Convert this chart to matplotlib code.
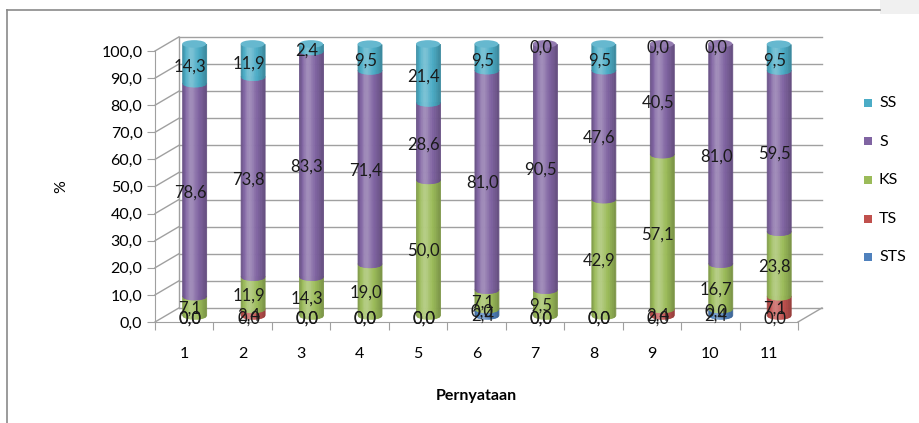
import numpy as np
import matplotlib
matplotlib.use("Agg")
import matplotlib.pyplot as plt
from matplotlib.colors import to_rgb
from matplotlib.patches import Ellipse, Rectangle
from matplotlib.lines import Line2D

plt.rcParams['font.family'] = ['Lato', 'DejaVu Sans']

categories = ['1', '2', '3', '4', '5', '6', '7', '8', '9', '10', '11']
sts = [0.0, 0.0, 0.0, 0.0, 0.0, 2.4, 0.0, 0.0, 0.0, 2.4, 0.0]
ts = [0.0, 2.4, 0.0, 0.0, 0.0, 0.0, 0.0, 0.0, 2.4, 0.0, 7.1]
ks = [7.1, 11.9, 14.3, 19.0, 50.0, 7.1, 9.5, 42.9, 57.1, 16.7, 23.8]
s = [78.6, 73.8, 83.3, 71.4, 28.6, 81.0, 90.5, 47.6, 40.5, 81.0, 59.5]
ss = [14.3, 11.9, 2.4, 9.5, 21.4, 9.5, 0.0, 9.5, 0.0, 0.0, 9.5]

series = [('STS', sts, '#4F81BD'), ('TS', ts, '#C0504D'), ('KS', ks, '#9BBB59'),
          ('S', s, '#8064A2'), ('SS', ss, '#4BACC6')]

grid_c = '#a0a0a0'
DX, DY = 0.41, 5.2        # depth of the 3d box (x units, %)
BW, RY = 0.41, 1.4        # cylinder width, ellipse half height
OFF_X, OFF_Y = 0.17, 2.6  # bar position inside the depth


def shade(base, t):
    r = np.array(to_rgb(base))
    k = 0.28 * np.exp(-((t + 0.3) / 0.45) ** 2) - 0.22 * t ** 2
    if k > 0:
        return tuple(r + (1 - r) * k)
    return tuple(r * (1 + k))


fig = plt.figure(figsize=(9.2, 4.23), dpi=100)
# outer frame
fig.add_artist(Line2D([7 / 920, 7 / 920], [0, 1 - 10 / 423], color='#8a8a8a', lw=1.2))
fig.add_artist(Line2D([7 / 920, 880 / 920], [1 - 10 / 423, 1 - 10 / 423], color='#8a8a8a', lw=1.2))
fig.add_artist(Rectangle((880 / 920, 1 - 14 / 423), 40 / 920, 14 / 423, color='#f0f0f0', lw=0))

ax = fig.add_axes([155 / 920, 101 / 423, 643 / 920, 271 / 423])
n = len(categories)
ax.set_xlim(0, n)
ax.set_ylim(0, 100)
for sp in ['top', 'right']:
    ax.spines[sp].set_visible(False)
for sp in ['left', 'bottom']:
    ax.spines[sp].set_color(grid_c)

# back wall + floor
for v in range(0, 101, 10):
    ax.plot([0, DX], [v, v + DY], color=grid_c, lw=1, clip_on=False)
    ax.plot([DX, n + DX], [v + DY, v + DY], color=grid_c, lw=1, clip_on=False, zorder=0)
ax.plot([DX, DX], [DY, 100 + DY], color=grid_c, lw=1, clip_on=False)
ax.plot([n, n + DX], [0, DY], color=grid_c, lw=1, clip_on=False)

# cylinders
NS = 18
for i in range(n):
    cx = i + 0.5 + OFF_X
    base = OFF_Y
    top_color = None
    for name, vals, col in series:
        h = vals[i]
        if h <= 0:
            continue
        edges = np.linspace(cx - BW / 2, cx + BW / 2, NS + 1)
        for k in range(NS):
            xs = np.linspace(edges[k], edges[k + 1], 3)
            tt = (xs - cx) / (BW / 2)
            bot = base - RY * np.sqrt(np.clip(1 - tt ** 2, 0, 1))
            tm = (edges[k] + edges[k + 1]) / 2
            c = shade(col, (tm - cx) / (BW / 2))
            ax.fill_between(xs, bot, base + h, facecolor=c, edgecolor=c,
                            lw=0.6, clip_on=False, zorder=2)
        base += h
        top_color = col
    rgb = np.array(to_rgb(top_color))
    ax.add_patch(Ellipse((cx, base), BW, 2 * RY, color=tuple(rgb + (1 - rgb) * 0.15),
                         lw=0, clip_on=False, zorder=3))

# value labels
for i in range(n):
    cum = 0
    for name, vals, col in series:
        v = vals[i]
        ax.text(i + 0.5 + 0.1, cum + v / 2 + 1.3, f'{v:.1f}'.replace('.', ','),
                ha='center', va='center', fontsize=12, color='#1a1a1a', zorder=5)
        cum += v

ax.set_yticks(range(0, 101, 10))
ax.set_yticklabels([f'{v},0' for v in range(0, 101, 10)], fontsize=11.5)
ax.set_xticks(range(0, n + 1))
ax.set_xticklabels([])
ax.set_xticks(np.arange(n) + 0.5, minor=True)
ax.set_xticklabels(categories, minor=True, fontsize=11.5)
ax.tick_params(axis='x', which='major', length=6, color=grid_c)
ax.tick_params(axis='x', which='minor', length=0, pad=18)
ax.tick_params(axis='y', length=6, color=grid_c, pad=3)
ax.set_ylabel('%', fontsize=11.5, labelpad=24)
ax.set_xlabel('Pernyataan', fontsize=11.5, fontweight='bold', labelpad=20)

# legend
for j, (name, vals, col) in enumerate(reversed(series)):
    y = 1 - (103 + 38.5 * j) / 423
    fig.add_artist(Rectangle((864 / 920, y - 4 / 423), 8 / 920, 8 / 423, color=col, lw=0))
    fig.text(879 / 920, y, name, fontsize=11.5, va='center', ha='left')

fig.savefig('out.png', dpi=100)
